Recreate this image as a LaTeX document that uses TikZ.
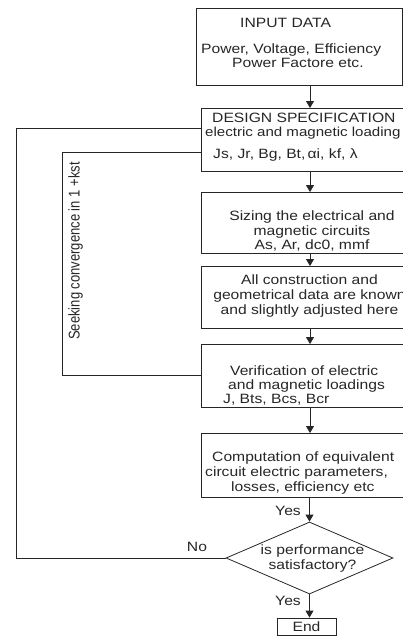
\documentclass[tikz,border=0pt]{standalone}
\usepackage{fontspec}
\setmainfont[FakeStretch=1.16]{Liberation Sans}
\newfontfamily\plainsans{Liberation Sans}
\usetikzlibrary{arrows.meta,shapes.geometric,calc}
\begin{document}
\begin{tikzpicture}[x=1pt,y=-1pt,
  box/.style={draw=black!85, line width=0.8pt, inner sep=0pt, anchor=north west},
  txt/.style={inner sep=0pt, text=black!85},
  conn/.style={draw=black!85, line width=0.8pt},
  arr/.style={conn, -{Triangle[width=8pt,length=7pt]}}]
\useasboundingbox (0,0) rectangle (403,637);
\clip (0,0) rectangle (403,637);
% boxes
\node[box, minimum width=206pt, minimum height=77pt] (input) at (196,8) {};
\node[box, minimum width=222pt, minimum height=63pt] (design) at (201,108) {};
\node[box, minimum width=222pt, minimum height=61pt] (sizing) at (201,192) {};
\node[box, minimum width=222pt, minimum height=62pt] (all) at (201,266) {};
\node[box, minimum width=222pt, minimum height=63pt] (verif) at (201,344) {};
\node[box, minimum width=222pt, minimum height=64pt] (comp) at (201,433) {};
\node[diamond, draw=black!85, line width=0.8pt, inner sep=0pt, minimum width=167pt, minimum height=72pt] (dia) at (309.5,558) {};
\node[draw=black!85, line width=0.8pt, inner sep=0pt, minimum width=59pt, minimum height=17pt, text=black!85, font=\fontsize{13.5}{14}\selectfont] (end) at (306.5,626.5) {End};
% texts
\node[txt, anchor=north west, align=left, font=\fontsize{13.5}{14}\selectfont] (inputtxt) at (201,18.3)
  {\hspace*{39pt}INPUT DATA\\[12pt]Power, Voltage, Efficiency\\\hspace*{31pt}Power Factore etc.};
\node[txt, anchor=north west, align=left, font=\fontsize{13.5}{14}\selectfont] (designtxt) at (205,113.3)
  {\hspace*{7pt}DESIGN SPECIFICATION\\{\fontsize{13}{14}\selectfont electric and magnetic loading}\\[7.5pt]\hspace*{8pt}Js, Jr, Bg, Bt,\,αi, kf, λ};
\node[txt, anchor=north, align=center, font=\fontsize{13.5}{14.2}\selectfont] (sizingtxt) at (312,211)
  {Sizing the electrical and\\magnetic circuits\\As, Ar, dc0, mmf};
\node[txt, anchor=north, align=center, font=\fontsize{13.5}{15}\selectfont] (alltxt) at (309.5,274.8)
  {All construction and\\geometrical data are known\\and slightly adjusted here};
\node[txt, anchor=north west, align=left, font=\fontsize{13.5}{14}\selectfont] (veriftxt) at (223,365.3)
  {\hspace*{7pt}Verification of electric\\\hspace*{5pt}and magnetic loadings\\J, Bts, Bcs, Bcr};
\node[txt, anchor=north west, align=left, font=\fontsize{13.5}{15}\selectfont] (comptxt) at (205,452)
  {\hspace*{7pt}Computation of equivalent\\circuit electric parameters,\\\hspace*{26pt}losses, efficiency etc};
\node[txt, anchor=north, align=center, font=\fontsize{13.5}{15}\selectfont] (diatxt) at (312.5,544.8)
  {is performance\\satisfactory?};
\node[txt, anchor=base, font=\fontsize{13.5}{14}\selectfont] (yes1) at (288,515.5) {Yes};
\node[txt, anchor=base, font=\fontsize{13.5}{14}\selectfont] (yes2) at (288,605.5) {Yes};
\node[txt, anchor=base, font=\fontsize{13.5}{14}\selectfont] (no) at (197,551) {No};
\node[txt, rotate=90, font=\plainsans\fontsize{13}{15}\selectfont] (seek) at (75.5,251)
  {\scalebox{1}[1.2]{Seeking convergence in 1 +kst}};
% arrows
\coordinate (ax) at (310,0);
\draw[arr] (input.south -| ax) -- (design.north -| ax);
\draw[arr] (design.south -| ax) -- (sizing.north -| ax);
\draw[arr] (sizing.south -| ax) -- (all.north -| ax);
\draw[arr] (all.south -| ax) -- (verif.north -| ax);
\draw[arr] (verif.south -| ax) -- (comp.north -| ax);
\draw[arr] (comp.south -| dia.north) -- (dia.north);
\draw[arr] (dia.south) -- (dia.south |- end.north);
% feedback loops
\coordinate (outx) at (16,0);
\coordinate (inx) at (62,0);
\coordinate (fbout) at ($(design.north west)+(0,20)$);
\coordinate (fbin2) at ($(design.north west)+(0,44)$);
\coordinate (fbin1) at ($(verif.north west)+(0,31)$);
\draw[conn] (dia.west) -- (dia.west -| outx) -- (outx |- fbout) -- (fbout);
\draw[conn] (fbin1) -- (fbin1 -| inx) -- (inx |- fbin2) -- (fbin2);
\end{tikzpicture}
\end{document}
